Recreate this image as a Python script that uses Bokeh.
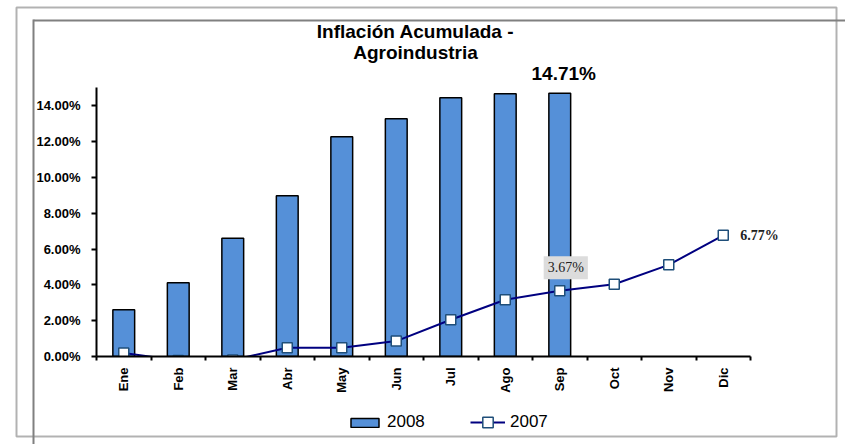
from math import pi
from bokeh.plotting import figure
from bokeh.models import (Range1d, FixedTicker, PrintfTickFormatter, Label, Legend, LegendItem,
                          BoxAnnotation, ColumnDataSource)
from bokeh.embed import file_html
from bokeh.resources import INLINE

# ---- data ----
months = ["Ene", "Feb", "Mar", "Abr", "May", "Jun", "Jul", "Ago", "Sep", "Oct", "Nov", "Dic"]
infl_2008 = [2.61, 4.12, 6.60, 8.98, 12.27, 13.28, 14.45, 14.68, 14.71]
infl_2007 = [0.19, -0.22, -0.20, 0.49, 0.49, 0.86, 2.05, 3.17, 3.67, 4.04, 5.12, 6.77]
y_ticks = [0, 2, 4, 6, 8, 10, 12, 14]
y_axis_max = 15
title_text = "Inflación Acumulada -\nAgroindustria"

x08 = [i + 0.5 for i in range(len(infl_2008))]
x07 = [i + 0.5 for i in range(len(infl_2007))]
src08 = ColumnDataSource(dict(x=x08, y=infl_2008))
src07 = ColumnDataSource(dict(x=x07, y=infl_2007))

# the frame covers the whole canvas; axes are pinned at 0 with fixed_location
xr = Range1d(-1.7615, 13.743)
yr = Range1d(-4.916, 19.888)
p = figure(frame_width=845, frame_height=444,
           min_border_left=0, min_border_right=0, min_border_top=0, min_border_bottom=0,
           x_range=xr, y_range=yr,
           output_backend="svg", toolbar_location=None,
           outline_line_color=None, background_fill_color="white", border_fill_color="white")
p.xgrid.visible = False
p.ygrid.visible = False

bars = p.vbar(x="x", top="y", width=0.4, source=src08,
              fill_color="#5590D8", line_color="black", line_width=1.5)
line = p.line(x="x", y="y", source=src07, line_color="#000080", line_width=2)
pts = p.scatter(x="x", y="y", source=src07, marker="square", size=10,
                fill_color="white", line_color="#1F4E79", line_width=1.5)
# the plot area ends at 0: hide whatever of the series falls below it
p.quad(left=xr.start, right=xr.end, top=0, bottom=yr.start,
       fill_color="white", line_color=None)

# axes
xa = p.xaxis[0]
xa.fixed_location = 0
xa.bounds = (0, len(months))
xa.ticker = FixedTicker(ticks=x07, minor_ticks=list(range(len(months) + 1)))
xa.major_label_overrides = {x: m for x, m in zip(x07, months)}
xa.major_label_orientation = pi / 2
xa.major_tick_line_color = None
xa.major_tick_out = 4
xa.minor_tick_in = 0
xa.minor_tick_out = 4
xa.minor_tick_line_color = "black"
xa.minor_tick_line_width = 2
xa.axis_line_color = "black"
xa.axis_line_width = 2
xa.major_label_text_font = "Liberation Sans"
xa.major_label_text_font_style = "bold"
xa.major_label_text_font_size = "13px"
xa.major_label_text_color = "black"
xa.major_label_standoff = 7

ya = p.yaxis[0]
ya.fixed_location = 0
ya.bounds = (0, y_axis_max)
ya.ticker = FixedTicker(ticks=y_ticks, minor_ticks=[])
ya.formatter = PrintfTickFormatter(format="%.2f%%")
ya.major_tick_in = 0
ya.major_tick_out = 5
ya.major_tick_line_width = 2
ya.minor_tick_line_color = None
ya.axis_line_width = 2
ya.major_label_text_font = "Liberation Sans"
ya.major_label_text_font_style = "bold"
ya.major_label_text_font_size = "13px"
ya.major_label_text_color = "black"
ya.major_label_standoff = 11

# value labels
p.add_layout(Label(x=x08[-1], y=infl_2008[-1], text=f"{infl_2008[-1]:.2f}%", x_offset=4, y_offset=9,
                   text_align="center", text_baseline="bottom", text_font="Liberation Sans",
                   text_font_style="bold", text_font_size="19px", text_color="black"))
p.add_layout(Label(x=x07[8], y=infl_2007[8], text=f"{infl_2007[8]:.2f}%", x_offset=6, y_offset=23,
                   text_align="center", text_baseline="middle", text_font="Liberation Serif",
                   text_font_size="14px", text_color="#222222",
                   background_fill_color="#DCDCDC", padding=4))
p.add_layout(Label(x=x07[-1], y=infl_2007[-1], text=f"{infl_2007[-1]:.2f}%", x_offset=17,
                   text_align="left", text_baseline="middle", text_font="Liberation Serif",
                   text_font_style="bold", text_font_size="14px", text_color="#222222"))

# title
p.add_layout(Label(x=415, y=20, x_units="canvas", y_units="canvas", text=title_text,
                   text_align="center", text_baseline="top", text_font="Liberation Sans",
                   text_font_style="bold", text_font_size="19px", text_color="black",
                   text_line_height=1.0))

# page decorations (scan borders)
def box(l, r, t, b, **kw):
    return BoxAnnotation(left=l, right=r, top=t, bottom=b, left_units="canvas",
                         right_units="canvas", top_units="canvas", bottom_units="canvas", **kw)

p.add_layout(box(16, 836, 7, 436, fill_color=None, line_color="black", line_width=2))
p.add_layout(box(33, 845, 19, 21, fill_color="#808080", fill_alpha=1, line_color=None))
p.add_layout(box(32, 34, 19, 444, fill_color="#808080", fill_alpha=1, line_color=None))

legend_style = dict(orientation="horizontal", glyph_width=35, label_standoff=5,
                    padding=0, margin=0, border_line_color=None, background_fill_alpha=0,
                    label_text_font="Liberation Sans", label_text_font_size="17px",
                    label_text_color="black")
leg08 = Legend(items=[LegendItem(label="2008", renderers=[bars])],
               location=(347, 12), glyph_height=11, **legend_style)
leg07 = Legend(items=[LegendItem(label="2007", renderers=[line, pts])],
               location=(470, 9), glyph_height=26, **legend_style)
p.add_layout(leg08, "center")
p.add_layout(leg07, "center")

open("out.html", "w").write(file_html(p, INLINE))
